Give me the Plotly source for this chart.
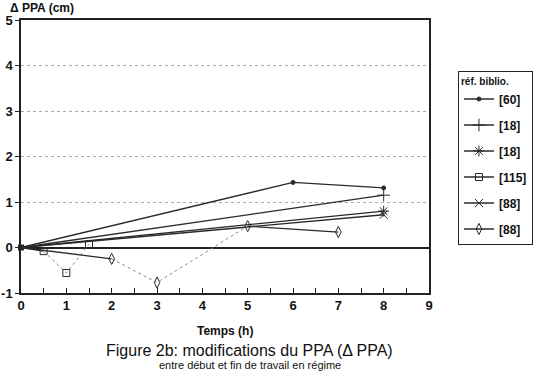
import plotly.graph_objects as go

# ---- data ----
names = ["[60]", "[18]", "[18]", "[115]", "[88]", "[88]"]
symbols = ["circle", "cross-thin-open", "asterisk-open", "square-open", "x-thin-open", "diamond-tall-open"]
sym_sizes = [4, 9, 9, 7, 8, 8]

x_60 = [0, 6, 8]
y_60 = [0, 1.43, 1.31]
dash_60 = ["solid", "solid"]

x_18a = [0, 8]
y_18a = [0, 1.15]
dash_18a = ["solid"]

x_18b = [0, 8]
y_18b = [0, 0.80]
dash_18b = ["solid"]

x_115 = [0, 0.5, 1, 1.5]
y_115 = [0, -0.08, -0.56, 0.07]
dash_115 = ["solid", "dot", "dot"]

x_88a = [0, 8]
y_88a = [0, 0.72]
dash_88a = ["solid"]

x_88b = [0, 2, 3, 5, 7]
y_88b = [0, -0.25, -0.77, 0.47, 0.34]
dash_88b = ["solid", "dot", "dot", "solid"]

series_x = [x_60, x_18a, x_18b, x_115, x_88a, x_88b]
series_y = [y_60, y_18a, y_18b, y_115, y_88a, y_88b]
series_dash = [dash_60, dash_18a, dash_18b, dash_115, dash_88a, dash_88b]

x_ticks = list(range(0, 10))
y_ticks = [-1, 0, 1, 2, 3, 4, 5]
y_tick_text = ["-1", "0", "1", "2", "3", "4", "5"]

LINE = "#2a2a2a"
DOT = "#8a8a8a"
FONT = "Liberation Sans, Arial, sans-serif"

fig = go.Figure()

for xs, ys, dashes, sym, ss in zip(series_x, series_y, series_dash, symbols, sym_sizes):
    for style, col, w in (("solid", LINE, 1.3), ("dot", DOT, 1.0)):
        px, py = [], []
        for i, d in enumerate(dashes):
            if d == style:
                if px and px[-1] is not None and px[-1] == xs[i] and py[-1] == ys[i]:
                    px.append(xs[i + 1]); py.append(ys[i + 1])
                else:
                    if px:
                        px.append(None); py.append(None)
                    px += [xs[i], xs[i + 1]]; py += [ys[i], ys[i + 1]]
        if px:
            fig.add_trace(go.Scatter(x=px, y=py, mode="lines", showlegend=False,
                                     line=dict(color=col, width=w, dash="solid" if style == "solid" else "dot"),
                                     cliponaxis=False, hoverinfo="skip"))
    fig.add_trace(go.Scatter(x=xs[1:], y=ys[1:], mode="markers", showlegend=False,
                             marker=dict(symbol=sym, size=ss, color=LINE,
                                         line=dict(color=LINE, width=1)),
                             cliponaxis=False))

# origin marker cluster
fig.add_trace(go.Scatter(x=[x_60[0]], y=[y_60[0]], mode="markers", showlegend=False,
                         marker=dict(symbol="square", size=6, color=LINE), cliponaxis=False))

# legend-only traces
for k, (name, sym, ss) in enumerate(zip(names, symbols, sym_sizes)):
    fig.add_trace(go.Scatter(x=[None], y=[None], mode="lines+markers", name=name,
                             legendgroup=f"g{k}",
                             line=dict(color=LINE, width=1.3),
                             marker=dict(symbol=sym, size=ss, color=LINE,
                                         line=dict(color=LINE, width=1))))

fig.update_layout(
    width=555, height=373,
    margin=dict(l=21, r=126, t=20, b=80, pad=0, autoexpand=False),
    paper_bgcolor="white", plot_bgcolor="white",
    font=dict(family=FONT, color="#111"),
    showlegend=True,
    legend=dict(
        x=1.071, y=0.815, xanchor="left", yanchor="top",
        bordercolor="#222", borderwidth=1, bgcolor="white",
        title=dict(text="réf. biblio.", font=dict(size=10, weight="bold", family=FONT)),
        font=dict(size=12, weight="bold", family=FONT),
        itemwidth=30, tracegroupgap=7,
    ),
    xaxis=dict(
        range=[0, 9], tickvals=x_ticks, ticktext=[str(v) for v in x_ticks],
        ticks="inside", ticklen=5, tickcolor="#222", tickwidth=1,
        minor=dict(dtick=0.5, ticks="inside", ticklen=5, tickcolor="#222", tickwidth=1),
        showgrid=False, zeroline=False, automargin=False,
        showline=True, linecolor="#222", linewidth=1.5, mirror=True,
        tickfont=dict(size=13, weight="bold", family=FONT),
    ),
    yaxis=dict(
        range=[-1, 5], tickvals=y_ticks, ticktext=y_tick_text,
        ticks="outside", ticklen=4, tickcolor="#222", automargin=False,
        showgrid=True, gridcolor="#aaa", griddash="dot", gridwidth=1,
        zeroline=True, zerolinecolor="#222", zerolinewidth=1.5,
        showline=True, linecolor="#222", linewidth=1.5, mirror=True,
        tickfont=dict(size=13, weight="bold", family=FONT),
    ),
    annotations=[
        dict(text="Δ PPA (cm)", xref="paper", yref="paper", x=-0.032, y=1.045,
             xanchor="left", yanchor="middle", showarrow=False,
             font=dict(size=12, weight="bold", family=FONT)),
        dict(text="Temps (h)", xref="paper", yref="paper", x=0.5, y=-0.138,
             xanchor="center", yanchor="middle", showarrow=False,
             font=dict(size=12, weight="bold", family=FONT)),
        dict(text="Figure 2b: modifications du PPA (Δ PPA)", xref="paper", yref="paper",
             x=0.561, y=-0.211, xanchor="center", yanchor="middle", showarrow=False,
             font=dict(size=16, family=FONT)),
        dict(text="entre début et fin de travail en régime", xref="paper", yref="paper",
             x=0.561, y=-0.2917, xanchor="center", yanchor="bottom", showarrow=False,
             font=dict(size=11, family=FONT)),
    ],
)

fig.write_html("out.html")
